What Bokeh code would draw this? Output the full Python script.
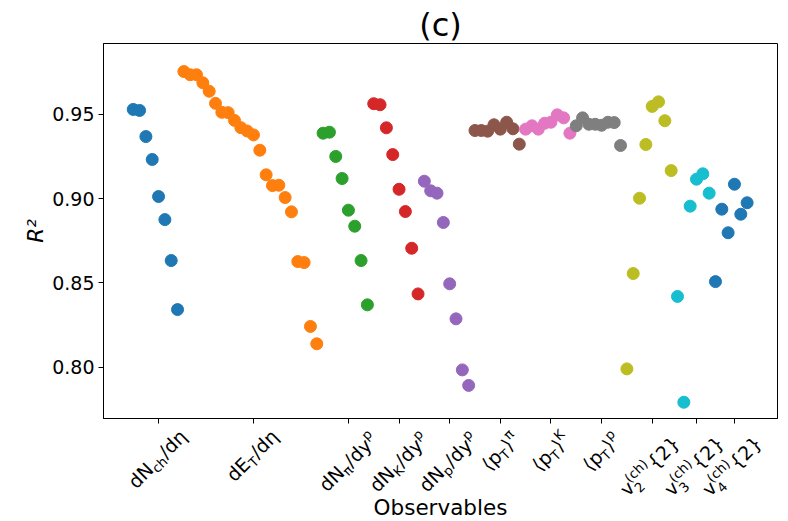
import math

from bokeh.core.properties import field, value
from bokeh.embed import file_html
from bokeh.layouts import column
from bokeh.models import ColumnDataSource, FixedTicker, NumeralTickFormatter, Range1d
from bokeh.plotting import figure
from bokeh.resources import INLINE

# R^2 of each observable, one list per observable group
dnch_deta = [0.9530, 0.9524, 0.9369, 0.9233, 0.9013, 0.8876, 0.8633, 0.8342]
det_deta = [0.9755, 0.9736, 0.9736, 0.9688, 0.9638, 0.9566, 0.9513, 0.9511,
            0.9465, 0.9422, 0.9402, 0.9379, 0.9288, 0.9142, 0.9078, 0.9080,
            0.9007, 0.8922, 0.8627, 0.8621, 0.8242, 0.8139]
dnpi_dy = [0.9389, 0.9395, 0.9251, 0.9120, 0.8932, 0.8837, 0.8633, 0.8370]
dnk_dy = [0.9564, 0.9558, 0.9421, 0.9262, 0.9056, 0.8924, 0.8706, 0.8435]
dnp_dy = [0.9104, 0.9047, 0.9033, 0.8859, 0.8495, 0.8287, 0.7984, 0.7892]
mean_pt_pi = [0.9405, 0.9405, 0.9401, 0.9439, 0.9413, 0.9454, 0.9415, 0.9324]
mean_pt_k = [0.9413, 0.9433, 0.9413, 0.9448, 0.9454, 0.9498, 0.9480, 0.9389]
mean_pt_p = [0.9433, 0.9480, 0.9442, 0.9442, 0.9436, 0.9454, 0.9452, 0.9316]
v2_ch = [0.7990, 0.8556, 0.9003, 0.9322, 0.9548, 0.9575, 0.9463, 0.9167]
v3_ch = [0.8420, 0.7792, 0.8956, 0.9116, 0.9148, 0.9033]
v4_ch = [0.8508, 0.8938, 0.8798, 0.9086, 0.8908, 0.8976]

groups = [dnch_deta, det_deta, dnpi_dy, dnk_dy, dnp_dy,
          mean_pt_pi, mean_pt_k, mean_pt_p, v2_ch, v3_ch, v4_ch]

# tick labels: _{...} subscript, ^{...} superscript
tick_labels = ["dN_{ch}/dη", "dE_{T}/dη", "dN_{π}/dy^{p}", "dN_{K}/dy^{p}",
               "dN_{p}/dy^{p}", "⟨p_{T}⟩^{π}", "⟨p_{T}⟩^{K}", "⟨p_{T}⟩^{p}",
               "v_{2}^{(ch)} {2}", "v_{3}^{(ch)} {2}", "v_{4}^{(ch)} {2}"]
y_ticks = [0.80, 0.85, 0.90, 0.95]

colors = ["#1f77b4", "#ff7f0e", "#2ca02c", "#d62728", "#9467bd", "#8c564b",
          "#e377c2", "#7f7f7f", "#bcbd22", "#17becf", "#1f77b4"]

# consecutive integer positions, tick at the middle of each group
xs, ys, cs, ticks = [], [], [], []
start = 0
for vals, col in zip(groups, colors):
    n = len(vals)
    xs.extend(range(start, start + n))
    ys.extend(vals)
    cs.extend([col] * n)
    ticks.append(start + n // 2)
    start += n

src = ColumnDataSource(data=dict(x=xs, y=ys, color=cs))

x0, x1 = -4.7, 101.8
y0, y1 = 0.76955, 0.99214
FRAME_W, FRAME_H = 674, 375
LEFT, RIGHT, TOP, TICK_BAND = 103, 11, 43, 6
LABEL_H = 521 - TOP - FRAME_H - TICK_BAND

x_range = Range1d(x0, x1)

# ---- main scatter panel ----
p = figure(width=788, height=TOP + FRAME_H + TICK_BAND,
           output_backend="svg", toolbar_location=None,
           x_range=x_range, y_range=Range1d(y0, y1),
           min_border_left=LEFT, min_border_right=RIGHT,
           min_border_top=TOP, min_border_bottom=TICK_BAND,
           title="(c)")
p.title.text_font = "DejaVu Sans"
p.title.text_font_size = "32px"
p.title.text_font_style = "normal"
p.title.text_color = "black"
p.title.align = "center"
p.title.standoff = 0
p.title.offset = 0

p.xgrid.visible = False
p.ygrid.visible = False
p.outline_line_color = "black"
p.outline_line_width = 1
p.background_fill_color = "white"
p.border_fill_color = "white"

for ax in (p.xaxis[0], p.yaxis[0]):
    ax.axis_line_color = "black"
    ax.major_tick_line_color = "black"
    ax.major_tick_out = 5
    ax.major_tick_in = 0
    ax.minor_tick_out = 0
    ax.minor_tick_in = 0

p.yaxis.ticker = FixedTicker(ticks=y_ticks)
p.yaxis.formatter = NumeralTickFormatter(format="0.00")
p.yaxis.major_label_text_font = "DejaVu Sans"
p.yaxis.major_label_text_font_size = "19px"
p.yaxis.major_label_text_color = "black"
p.yaxis.major_label_standoff = 4
p.yaxis.axis_label = "R²"
p.yaxis.axis_label_text_font = "DejaVu Sans"
p.yaxis.axis_label_text_font_size = "21.5px"
p.yaxis.axis_label_text_font_style = "italic"
p.yaxis.axis_label_text_color = "black"
p.yaxis.axis_label_standoff = 1

p.xaxis.ticker = FixedTicker(ticks=ticks)
p.xaxis.major_label_overrides = {t: "" for t in ticks}
p.xaxis.major_label_text_font_size = "0px"
p.xaxis.major_label_standoff = 0

p.scatter(x="x", y="y", source=src, size=12, marker="circle",
          fill_color="color", line_color="color", line_width=1)

# ---- rotated tick labels built from sub/superscript pieces ----
FS = 19.0
SS = FS * 0.7
ADV = {' ': 651, '(': 799, ')': 799, '/': 690, '2': 1303, '3': 1303, '4': 1303,
       'E': 1294, 'K': 1343, 'N': 1532, 'T': 1251, 'c': 1126, 'd': 1300,
       'h': 1298, 'p': 1300, 'y': 1212, 'v': 1212, '{': 1303, '}': 1303,
       'η': 1300, 'π': 1200, '⟨': 799, '⟩': 799}
DESC = set("pyη/(){}⟨⟩")
BASE_LIFT = 0.37     # em: anchor-to-baseline correction of the text glyph


def text_width(s, size):
    return sum(ADV.get(ch, 1200) for ch in s) / 2048.0 * size


def parse(s):
    out, buf, i = [], "", 0
    while i < len(s):
        c = s[i]
        if c in "_^" and s[i + 1:i + 2] == "{":
            j = s.index("}", i)
            txt = s[i + 2:j]
            slot = 1 if c == "_" else 2
            if buf:
                out.append(["n", buf])
                buf = ""
                out.append(["s", None, None])
            elif not out or out[-1][0] != "s" or out[-1][slot] is not None:
                out.append(["s", None, None])
            out[-1][slot] = txt
            i = j + 1
        else:
            buf += c
            i += 1
    if buf:
        out.append(["n", buf])
    return out


def layout(s):
    pieces, a, asc, desc = [], 0.0, 0.0, 0.0
    for box in parse(s):
        if box[0] == "n":
            pieces.append((box[1], FS, a, 0.0))
            asc = max(asc, 0.76 * FS)
            if any(ch in DESC for ch in box[1]):
                desc = max(desc, 0.22 * FS)
            a += text_width(box[1], FS)
        else:
            sub, sup = box[1], box[2]
            both = sub is not None and sup is not None
            w = 0.0
            if sub is not None:
                sh = -(0.30 if both else 0.22) * FS
                pieces.append((sub, SS, a, sh))
                w = max(w, text_width(sub, SS))
                extra = 0.22 * SS if any(ch in DESC for ch in sub) else 0.0
                desc = max(desc, -sh + extra)
            if sup is not None:
                sh = 0.42 * FS
                pieces.append((sup, SS, a, sh))
                w = max(w, text_width(sup, SS))
                asc = max(asc, sh + 0.76 * SS)
            a += w + 0.05 * FS
    return pieces, a, asc, desc


# label strip below the frame: y in pixels below the frame edge (negative down)
px_per_x = FRAME_W / (x1 - x0)
c45 = math.sqrt(0.5)
label_top = 9.0      # px below the frame edge
center_shift = 0.0   # px right of the tick

lx, ly, lt, lf = [], [], [], []
for t, lab in zip(ticks, tick_labels):
    pieces, L, A, D = layout(lab)
    ox = center_shift - 0.5 * c45 * (L + D - A)
    oy = label_top + c45 * (L + A)
    for txt, size, a, sh in pieces:
        sh_eff = sh + BASE_LIFT * size
        px = ox + c45 * (a - sh_eff)
        py = oy - c45 * (a + sh_eff)
        lx.append(t + px / px_per_x)
        ly.append(-py)
        lt.append(txt)
        lf.append(f"{size:.1f}px")

q = figure(width=788, height=LABEL_H, output_backend="svg", toolbar_location=None,
           x_range=x_range, y_range=Range1d(-(TICK_BAND + LABEL_H), -TICK_BAND),
           x_axis_type=None, y_axis_type=None,
           min_border_left=LEFT, min_border_right=RIGHT,
           min_border_top=0, min_border_bottom=0)
q.title = None
q.outline_line_color = None
q.xgrid.visible = False
q.ygrid.visible = False
q.background_fill_color = "white"
q.border_fill_color = "white"

lsrc = ColumnDataSource(data=dict(x=lx, y=ly, text=lt, fs=lf))
q.text(x="x", y="y", text="text", source=lsrc, angle=45, angle_units="deg",
       text_font=value("DejaVu Sans"), text_font_size=field("fs"),
       text_color="black", text_align="left", text_baseline="alphabetic")

q.text(x=[(x0 + x1) / 2], y=[-89], text=["Observables"],
       text_font=value("DejaVu Sans"), text_font_size="21.5px",
       text_color="black", text_align="center", text_baseline="alphabetic")

open("out.html", "w").write(file_html(column(p, q, spacing=0), INLINE))
